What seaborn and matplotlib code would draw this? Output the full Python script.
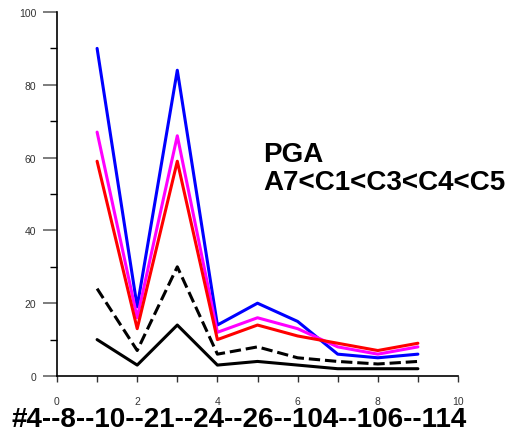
import matplotlib
matplotlib.use("Agg")
import matplotlib.pyplot as plt
import seaborn as sns
import pandas as pd
from matplotlib.ticker import MultipleLocator

sns.set_theme(style="white")
plt.rcParams['font.family'] = ['Liberation Sans', 'DejaVu Sans']

x = [1, 2, 3, 4, 5, 6, 7, 8, 9]
blue = [90, 19, 84, 14, 20, 15, 6, 5, 6]
magenta = [67, 16, 66, 12, 16, 13, 8, 6, 8]
red = [59, 13, 59, 10, 14, 11, 9, 7, 9]
dashed_black = [24, 7, 30, 6, 8, 5, 4, 3.3, 4]
solid_black = [10, 3, 14, 3, 4, 3, 2, 2, 2]

series = [
    ("C5", blue, "#0000ff", "-"),
    ("C4", magenta, "#ff00ff", "-"),
    ("C3", red, "#ff0000", "-"),
    ("C1", dashed_black, "#000000", "--"),
    ("A7", solid_black, "#000000", "-"),
]

fig = plt.figure(figsize=(5.15, 4.35), dpi=100)
ax = fig.add_axes([57/515, 58/435, (458-57)/515, (377-13)/435])

for name, vals, col, ls in series:
    df = pd.DataFrame({"x": x, "y": vals})
    sns.lineplot(data=df, x="x", y="y", ax=ax, color=col, linestyle=ls,
                 linewidth=2.2, legend=False)

ax.set_xlim(0, 10)
ax.set_ylim(0, 100)
ax.xaxis.set_major_locator(MultipleLocator(2))
ax.xaxis.set_minor_locator(MultipleLocator(1))
ax.yaxis.set_major_locator(MultipleLocator(20))
ax.yaxis.set_minor_locator(MultipleLocator(10))
ax.tick_params(axis='x', which='both', direction='out', length=4.5, width=1,
               color='#333333', labelsize=7.5, labelcolor='#333333', pad=10, bottom=True)
ax.tick_params(axis='y', which='major', direction='out', length=10, width=1.2,
               color='#666666', labelsize=7.5, labelcolor='#333333', pad=5, left=True)
ax.tick_params(axis='y', which='minor', direction='out', length=5, width=1,
               color='#000000', left=True)
for s in ['top', 'right']:
    ax.spines[s].set_visible(False)
for s in ['left', 'bottom']:
    ax.spines[s].set_color('black')
    ax.spines[s].set_linewidth(1.2)
ax.set_xlabel("")
ax.set_ylabel("")
ax.grid(False)

ax.text(5.15, 61, "PGA", fontsize=20, fontweight='bold', color='black', va='center')
ax.text(5.15, 53.2, "A7<C1<C3<C4<C5", fontsize=20, fontweight='bold', color='black', va='center')

fig.text(12/515, 1 - 420/435, "#4--8--10--21--24--26--104--106--114", fontsize=20,
         fontweight='bold', color='black', va='center', ha='left')

fig.savefig("out.png", dpi=100, facecolor='white')
